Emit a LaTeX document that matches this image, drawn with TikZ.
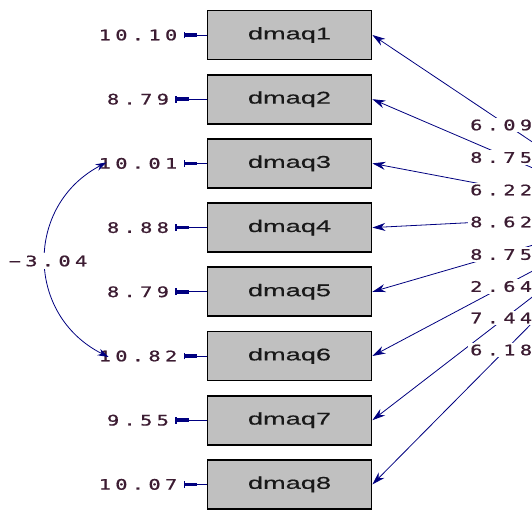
\documentclass[tikz,border=0pt]{standalone}
\usepackage{fontspec}
\setmainfont{Liberation Sans}
\newfontfamily\numfont[FakeStretch=1.4,LetterSpace=30,FakeBold=0.8]{DejaVu Sans Mono}
\newfontfamily\boxfont[FakeStretch=1.6,FakeBold=0.5]{Liberation Sans}
\usetikzlibrary{arrows.meta}
\definecolor{lnavy}{RGB}{0,0,128}
\definecolor{boxgray}{RGB}{192,192,192}
\definecolor{numcol}{RGB}{60,28,50}
\begin{document}
\begin{tikzpicture}[x=1pt,y=-1pt,
  obs/.style={draw=black, line width=1.8pt, fill=boxgray, minimum width=164pt,
    minimum height=49pt, inner sep=0pt, font=\boxfont\fontsize{17}{17}\selectfont, text=black!90},
  num/.style={font=\numfont\fontsize{14.5}{14.5}\selectfont, text=numcol, inner sep=1pt},
  rnum/.style={num, anchor=west, fill=white, inner sep=2pt},
  load/.style={draw=lnavy, line width=0.8pt, -{Stealth[length=13pt,width=8pt]}},
  errline/.style={draw=lnavy, line width=0.9pt},
  errhead/.style={fill=lnavy},
  cov/.style={draw=lnavy, line width=0.8pt, {Stealth[length=11pt,width=7pt]}-{Stealth[length=11pt,width=7pt]}}
]
\useasboundingbox (0,0) rectangle (532,510);
\clip (0,0) rectangle (532,510);
\fill[white] (0,0) rectangle (532,510);

% observed variables
\foreach \i/\lab in {1/10.10,2/8.79,3/10.01,4/8.88,5/8.79,6/10.82,7/9.55,8/10.07}{
  \pgfmathsetmacro{\yy}{35+64.2*(\i-1)}
  \node[obs] (v\i) at (289.5,\yy) {dmaq\i};
  \node[num] (e\i) at (138,\yy) {\lab};
  \coordinate (s\i) at ([xshift=6pt]e\i.east);
  \draw[errline] (s\i) -- (v\i.west);
  \fill[errhead] ([yshift=-1.8pt]s\i) rectangle ([xshift=13pt,yshift=1.8pt]s\i);
  \draw[errline, line width=1.4pt] ([yshift=-3.4pt]s\i) -- ([yshift=3.4pt]s\i);
}

% latent factor (outside the visible region)
\coordinate (F) at (640,214);
\foreach \i in {1,...,8}{
  \draw[load] (F) -- (v\i.east);
}

% loading labels
\node[rnum] (r1) at (468,125) {6.09};
\node[rnum] (r2) at (468,157.5) {8.75};
\node[rnum] (r3) at (468,190) {6.22};
\node[rnum] (r4) at (468,222) {8.62};
\node[rnum] (r5) at (468,254.5) {8.75};
\node[rnum] (r6) at (468,286.5) {2.64};
\node[rnum] (r7) at (468,318) {7.44};
\node[rnum] (r8) at (468,350) {6.18};

% covariance between error terms of dmaq3 and dmaq6
\coordinate (c3) at ([xshift=9pt,yshift=1pt]e3.west);
\coordinate (c6) at ([xshift=11pt,yshift=-1pt]e6.west);
\draw[cov] (c3) .. controls (25,205) and (25,315) .. (c6);
\node[num, fill=white, inner sep=3pt] (cv) at (48,261) {−3.04};
\end{tikzpicture}
\end{document}
